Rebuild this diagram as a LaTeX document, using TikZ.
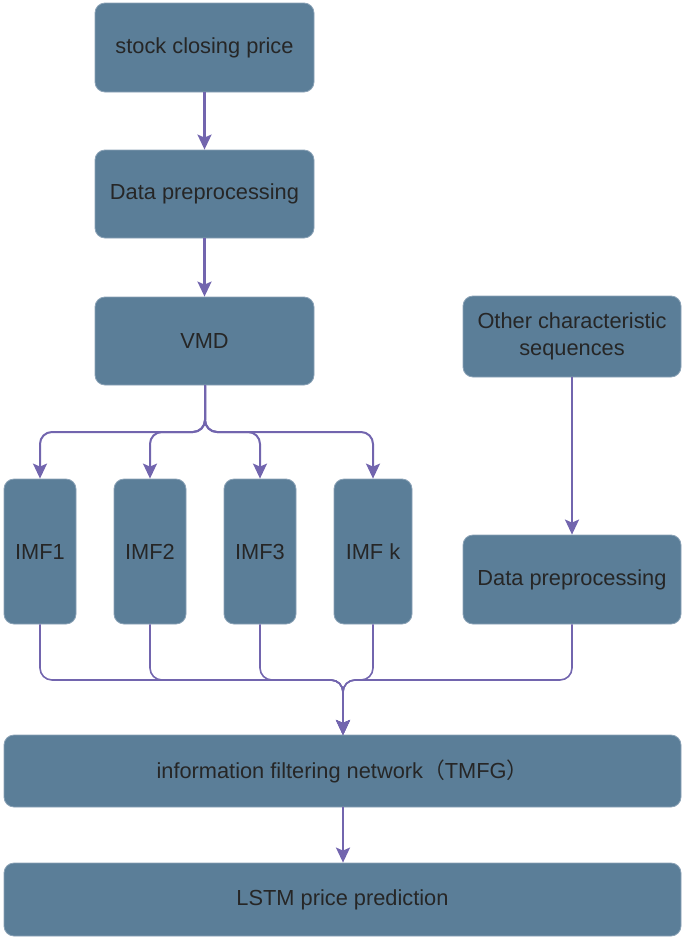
\documentclass[tikz,border=0pt]{standalone}
\usepackage{fontspec}
\setmainfont{Liberation Sans}
\newfontfamily\cjk{Noto Sans CJK SC}
\usetikzlibrary{arrows.meta}
\definecolor{boxfill}{HTML}{5B7E98}
\definecolor{boxrim}{HTML}{8AA2B6}
\definecolor{txt}{HTML}{262626}
\definecolor{arr}{HTML}{7265AE}
\tikzset{
  box/.style={rectangle, rounded corners=10pt, fill=boxfill, draw=boxrim, line width=0.8pt,
    text=txt, font=\fontsize{21.8}{26.5}\selectfont, align=center, inner sep=0pt},
  flow/.style={draw=arr, line width=2.2pt, -{Stealth[length=15pt,width=14pt,inset=3pt]}},
  merge/.style={draw=arr, line width=1.6pt, rounded corners=12pt, -{Stealth[length=15pt,width=14pt,inset=3pt]}},
  split/.style={draw=arr, line width=2pt, rounded corners=12pt, -{Stealth[length=15pt,width=14pt,inset=3pt]}}
}
\begin{document}
\begin{tikzpicture}[x=1pt,y=-1pt]
\useasboundingbox (0,0) rectangle (685,940);
\node[box, minimum width=219pt, minimum height=89pt] (b1) at (204.5,47.5) {stock closing price};
\node[box, minimum width=219pt, minimum height=88pt] (b2) at (204.5,194) {Data preprocessing};
\node[box, minimum width=219pt, minimum height=88pt] (vmd) at (204.5,341) {VMD};
\node[box, minimum width=218pt, minimum height=81pt] (oth) at (572,336.5) {Other characteristic\\sequences};
\node[box, minimum width=218pt, minimum height=89pt] (dp2) at (572,579.5) {Data preprocessing};
\node[box, minimum width=72pt, minimum height=145pt] (imf1) at (40,551.5) {IMF1};
\node[box, minimum width=72pt, minimum height=145pt] (imf2) at (150,551.5) {IMF2};
\node[box, minimum width=72pt, minimum height=145pt] (imf3) at (260,551.5) {IMF3};
\node[box, minimum width=78pt, minimum height=145pt] (imfk) at (373,551.5) {IMF k};
\node[box, minimum width=677pt, minimum height=72pt] (tmfg) at (342.5,771) {information filtering network{\cjk （}TMFG{\cjk ）}};
\node[box, minimum width=677pt, minimum height=73pt] (lstm) at (342.5,899.5) {LSTM price prediction};

\coordinate (sp) at (205,432);
\coordinate (mg) at (343,680);
\coordinate (tin) at (343,735);

\draw[flow] (b1.south) -- (b2.north);
\draw[flow] (b2.south) -- (vmd.north);
\draw[flow] (oth.south) -- (dp2.north);
\draw[flow] (tmfg.south -| tin) -- (lstm.north -| tin);

\foreach \n in {imf1,imf2,imf3,imfk}{
  \draw[split] (vmd.south -| sp) -- (sp) -| (\n.north);
}
\foreach \n in {imf1,imf2,imf3,imfk,dp2}{
  \draw[merge] (\n.south) |- (mg) -- (tin);
}
\end{tikzpicture}
\end{document}
